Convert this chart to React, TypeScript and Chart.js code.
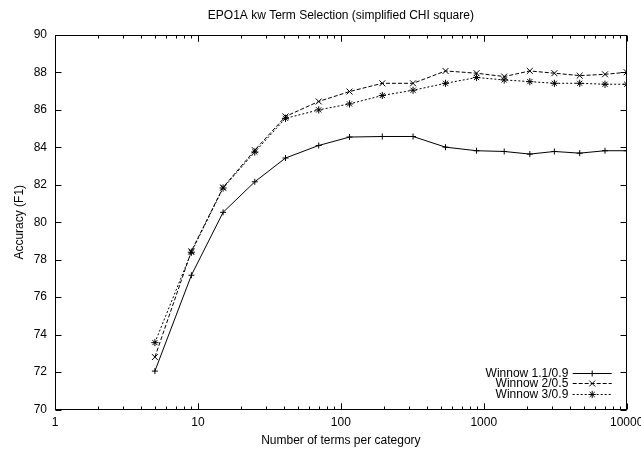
import React, { useEffect, useRef } from 'react';
import { Chart, registerables } from 'chart.js';

Chart.register(...registerables);

const chartTitle = 'EPO1A kw Term Selection (simplified CHI square)';
const xAxisTitle = 'Number of terms per category';
const yAxisTitle = 'Accuracy (F1)';

const terms = [5, 9, 15, 25, 41, 70, 115, 195, 320, 540, 890, 1390, 2100, 3120, 4690, 7050, 10000];
const winnow11 = [72.05, 77.17, 80.53, 82.16, 83.43, 84.1, 84.55, 84.58, 84.58, 84.01, 83.82, 83.78, 83.64, 83.78, 83.69, 83.82, 83.82];
const winnow2 = [72.8, 78.45, 81.86, 83.85, 85.65, 86.45, 86.98, 87.42, 87.42, 88.08, 87.96, 87.78, 88.08, 87.96, 87.83, 87.9, 88.01];
const winnow3 = [73.57, 78.4, 81.83, 83.75, 85.55, 86.0, 86.32, 86.77, 87.05, 87.42, 87.73, 87.6, 87.51, 87.42, 87.42, 87.37, 87.37];

const seriesLabels = ['Winnow 1.1/0.9', 'Winnow 2/0.5', 'Winnow 3/0.9'];
const xTickValues = [1, 10, 100, 1000, 10000];
const yMin = 70;
const yMax = 90;
const yStep = 2;

const FONT = "'Liberation Sans', Arial, Helvetica, sans-serif";

type Marker = 'cross' | 'crossRot' | 'star';
const seriesStyles: { dash: number[]; marker: Marker; radius: number }[] = [
  { dash: [], marker: 'cross', radius: 3 },
  { dash: [4, 2], marker: 'crossRot', radius: 4.2 },
  { dash: [2, 2], marker: 'star', radius: 3.6 },
];

function drawMarker(ctx: CanvasRenderingContext2D, m: Marker, x: number, y: number, r: number) {
  ctx.beginPath();
  if (m === 'cross' || m === 'star') {
    ctx.moveTo(x - r, y);
    ctx.lineTo(x + r, y);
    ctx.moveTo(x, y - r);
    ctx.lineTo(x, y + r);
  }
  if (m === 'crossRot' || m === 'star') {
    const d = r * Math.SQRT1_2;
    ctx.moveTo(x - d, y - d);
    ctx.lineTo(x + d, y + d);
    ctx.moveTo(x - d, y + d);
    ctx.lineTo(x + d, y - d);
  }
  ctx.stroke();
}

const framePlugin = {
  id: 'gnuFrame',
  afterDatasetsDraw(chart: any) {
    const { ctx, chartArea: a, scales } = chart;
    const xs = scales.x;
    const ys = scales.y;
    ctx.save();
    ctx.strokeStyle = '#000';
    ctx.lineWidth = 1;
    ctx.setLineDash([]);
    const L = Math.round(a.left) + 0.5;
    const R = Math.round(a.right) - 0.5;
    const T = Math.round(a.top) + 0.5;
    const B = Math.round(a.bottom) - 0.5;
    ctx.strokeRect(L, T, R - L, B - T);
    ctx.beginPath();
    for (let v = yMin; v <= yMax + 1e-9; v += yStep) {
      const py = Math.round(ys.getPixelForValue(v)) + 0.5;
      ctx.moveTo(L, py);
      ctx.lineTo(L + 6, py);
      ctx.moveTo(R, py);
      ctx.lineTo(R - 6, py);
    }
    for (let d = 1; d < 10000; d *= 10) {
      for (let k = 1; k <= 10; k++) {
        const v = k * d;
        const px = Math.round(xs.getPixelForValue(v)) + 0.5;
        const len = k === 1 || k === 10 ? 6 : 3;
        ctx.moveTo(px, B);
        ctx.lineTo(px, B - len);
        ctx.moveTo(px, T);
        ctx.lineTo(px, T + len);
      }
    }
    ctx.stroke();

    // key (bottom right, inside the plot)
    ctx.font = `12px ${FONT}`;
    ctx.fillStyle = '#000';
    ctx.textAlign = 'right';
    ctx.textBaseline = 'middle';
    const textRight = a.right - 58.4;
    const sampleL = a.right - 54;
    const sampleR = a.right - 15;
    const markX = (sampleL + sampleR) / 2;
    seriesLabels.forEach((label, i) => {
      const ry = Math.round(a.bottom - 37 + i * 10.5) + 0.5;
      ctx.fillText(label, textRight, ry);
      const st = seriesStyles[i];
      ctx.setLineDash(st.dash);
      ctx.beginPath();
      ctx.moveTo(sampleL, ry);
      ctx.lineTo(sampleR, ry);
      ctx.stroke();
      ctx.setLineDash([]);
      drawMarker(ctx, st.marker, markX, ry, st.radius);
    });
    ctx.restore();
  },
};

export default function App() {
  const ref = useRef<HTMLCanvasElement | null>(null);

  useEffect(() => {
    if (!ref.current) return;
    const seriesValues = [winnow11, winnow2, winnow3];
    const chart = new Chart(ref.current, {
      type: 'line',
      data: {
        datasets: seriesValues.map((vals, i) => ({
          label: seriesLabels[i],
          data: terms.map((t, j) => ({ x: t, y: vals[j] })),
          borderColor: '#000',
          borderWidth: 1,
          borderDash: seriesStyles[i].dash,
          pointStyle: seriesStyles[i].marker,
          pointRadius: seriesStyles[i].radius,
          pointHoverRadius: seriesStyles[i].radius,
          pointBorderColor: '#000',
          pointBackgroundColor: 'rgba(0,0,0,0)',
          pointBorderWidth: 1,
          fill: false,
          tension: 0,
        })),
      },
      options: {
        responsive: false,
        animation: false,
        devicePixelRatio: 1,
        layout: { padding: 0 },
        plugins: {
          legend: { display: false },
          tooltip: { enabled: false },
          title: {
            display: true,
            text: chartTitle,
            fullSize: false,
            color: '#000',
            font: { family: FONT, size: 12, weight: 'normal' },
            padding: { top: 8, bottom: 12.6 },
          },
        },
        scales: {
          x: {
            type: 'logarithmic',
            min: 1,
            max: 10000,
            grid: { display: false, drawTicks: false },
            border: { display: false },
            afterBuildTicks: (s: any) => {
              s.ticks = xTickValues.map((v) => ({ value: v }));
            },
            afterFit: (s: any) => {
              s.height = 41.5;
              s.paddingLeft = 0;
              s.paddingRight = 14.3;
            },
            ticks: {
              autoSkip: false,
              maxRotation: 0,
              padding: 6,
              color: '#000',
              font: { family: FONT, size: 12 },
              callback: (v: any) => String(v),
            },
            title: {
              display: true,
              text: xAxisTitle,
              color: '#000',
              font: { family: FONT, size: 12 },
              padding: { top: 0, bottom: 3 },
            },
          },
          y: {
            type: 'linear',
            min: yMin,
            max: yMax,
            grid: { display: false, drawTicks: false },
            border: { display: false },
            afterFit: (s: any) => {
              s.width = 55;
            },
            ticks: {
              stepSize: yStep,
              padding: 8,
              color: '#000',
              font: { family: FONT, size: 12 },
            },
            title: {
              display: true,
              text: yAxisTitle,
              color: '#000',
              font: { family: FONT, size: 12 },
              padding: { top: 12, bottom: 0 },
            },
          },
        },
      },
      plugins: [framePlugin],
    } as any);
    return () => chart.destroy();
  }, []);

  return (
    <div style={{ position: 'fixed', left: 0, top: 0, width: 641, height: 451, background: '#fff', overflow: 'hidden' }}>
      <canvas ref={ref} width={641} height={451} style={{ display: 'block', width: 641, height: 451 }} />
    </div>
  );
}
